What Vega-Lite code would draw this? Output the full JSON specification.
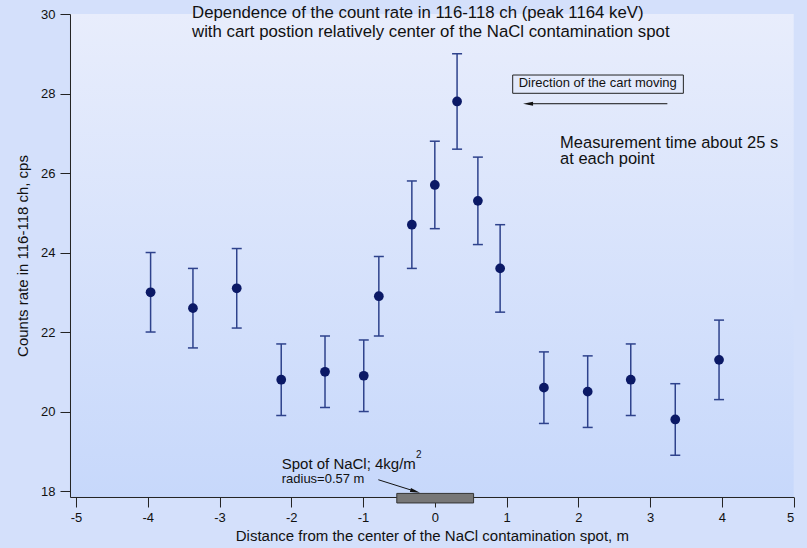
{
  "$schema": "https://vega.github.io/schema/vega-lite/v6.json",
  "width": 723.7,
  "height": 483,
  "autosize": {"type": "none"},
  "padding": {"left": 70, "top": 14, "right": 13, "bottom": 51},
  "background": "#d4e0fb",
  "config": {
    "view": {"stroke": null, "fill": {"gradient": "linear", "x1": 0, "y1": 0, "x2": 0, "y2": 1, "stops": [{"offset": 0, "color": "#e8edfc"}, {"offset": 1, "color": "#c7d8fb"}]}},
    "font": "Liberation Sans",
    "axis": {
      "grid": false,
      "domainColor": "#222222",
      "domainWidth": 1,
      "tickColor": "#222222",
      "tickWidth": 1,
      "tickSize": 10,
      "labelFont": "Liberation Sans",
      "labelFontSize": 13,
      "labelColor": "#111111",
      "labelPadding": 5,
      "labelExpr": "replace(datum.label, '−', '-')",
      "titleFont": "Liberation Sans",
      "titleFontSize": 15,
      "titleFontWeight": "normal",
      "titleColor": "#111111"
    }
  },
  "datasets": {
    "pts": [
      {"x": -3.96, "y": 23.0, "lo": 22.0, "hi": 24.0},
      {"x": -3.37, "y": 22.6, "lo": 21.6, "hi": 23.6},
      {"x": -2.76, "y": 23.1, "lo": 22.1, "hi": 24.1},
      {"x": -2.14, "y": 20.8, "lo": 19.9, "hi": 21.7},
      {"x": -1.53, "y": 21.0, "lo": 20.1, "hi": 21.9},
      {"x": -0.99, "y": 20.9, "lo": 20.0, "hi": 21.8},
      {"x": -0.78, "y": 22.9, "lo": 21.9, "hi": 23.9},
      {"x": -0.32, "y": 24.7, "lo": 23.6, "hi": 25.8},
      {"x": 0.0, "y": 25.7, "lo": 24.6, "hi": 26.8},
      {"x": 0.31, "y": 27.8, "lo": 26.6, "hi": 29.0},
      {"x": 0.6, "y": 25.3, "lo": 24.2, "hi": 26.4},
      {"x": 0.91, "y": 23.6, "lo": 22.5, "hi": 24.7},
      {"x": 1.52, "y": 20.6, "lo": 19.7, "hi": 21.5},
      {"x": 2.13, "y": 20.5, "lo": 19.6, "hi": 21.4},
      {"x": 2.73, "y": 20.8, "lo": 19.9, "hi": 21.7},
      {"x": 3.35, "y": 19.8, "lo": 18.9, "hi": 20.7},
      {"x": 3.96, "y": 21.3, "lo": 20.3, "hi": 22.3}
    ],
    "title": [
      {"x": -3.383, "y": 29.892, "t": "Dependence of the count rate in 116-118 ch (peak 1164 keV)"},
      {"x": -3.383, "y": 29.429, "t": "with cart postion relatively center of the NaCl contamination spot"}
    ],
    "meas": [
      {"x": 1.745, "y": 26.636, "t": "Measurement time about 25 s"},
      {"x": 1.745, "y": 26.226, "t": "at each point"}
    ],
    "dirText": [{"x": 2.27, "y": 28.156, "t": "Direction of the cart moving"}],
    "dirBox": [{"x": 1.085, "x2": 3.463, "y": 28.005, "y2": 28.465}],
    "dirArrow": [{"x": 1.299, "x2": 3.24, "y": 27.743, "y2": 27.743}],
    "dirHead": [{"x": 1.299, "y": 27.743}],
    "spot": [{"x": -0.53, "x2": 0.54, "y": 17.7, "y2": 17.94}],
    "spotText": [{"x": -2.133, "y": 18.546, "t": "Spot of NaCl; 4kg/m"}],
    "spotSup": [{"x": -0.262, "y": 18.823, "t": "2"}],
    "spotRad": [{"x": -2.133, "y": 18.194, "t": "radius=0.57 m"}],
    "spotArrow": [{"x": -0.787, "y": 18.284, "x2": -0.273, "y2": 17.992}],
    "spotHead": [{"x": -0.273, "y": 17.992}]
  },
  "encoding": {
    "x": {"field": "x", "type": "quantitative", "scale": {"domain": [-5.083, 5], "nice": false, "zero": false},
      "axis": {"title": "Distance from the center of the NaCl contamination spot, m", "values": [-5, -4, -3, -2, -1, 0, 1, 2, 3, 4, 5], "titlePadding": 4}},
    "y": {"field": "y", "type": "quantitative", "scale": {"domain": [17.85, 30], "nice": false, "zero": false},
      "axis": {"title": "Counts rate in 116-118 ch, cps", "values": [18, 20, 22, 24, 26, 28, 30], "titlePadding": 10}}
  },
  "layer": [
    {
      "data": {"name": "pts"},
      "mark": {"type": "rule", "color": "#2e428c", "strokeWidth": 1.5},
      "encoding": {
        "y": {"field": "lo", "type": "quantitative", "scale": {"domain": [17.85, 30], "nice": false, "zero": false},
          "axis": {"title": "Counts rate in 116-118 ch, cps", "values": [18, 20, 22, 24, 26, 28, 30], "titlePadding": 10}},
        "y2": {"field": "hi"}
      }
    },
    {
      "data": {"name": "pts"},
      "mark": {"type": "tick", "orient": "horizontal", "size": 10, "thickness": 1.5, "opacity": 1, "color": "#2e428c"},
      "encoding": {
        "y": {"field": "lo", "type": "quantitative", "scale": {"domain": [17.85, 30], "nice": false, "zero": false},
          "axis": {"title": "Counts rate in 116-118 ch, cps", "values": [18, 20, 22, 24, 26, 28, 30], "titlePadding": 10}}
      }
    },
    {
      "data": {"name": "pts"},
      "mark": {"type": "tick", "orient": "horizontal", "size": 10, "thickness": 1.5, "opacity": 1, "color": "#2e428c"},
      "encoding": {
        "y": {"field": "hi", "type": "quantitative", "scale": {"domain": [17.85, 30], "nice": false, "zero": false},
          "axis": {"title": "Counts rate in 116-118 ch, cps", "values": [18, 20, 22, 24, 26, 28, 30], "titlePadding": 10}}
      }
    },
    {
      "data": {"name": "pts"},
      "mark": {"type": "point", "filled": true, "size": 95, "opacity": 1, "color": "#0b1966"}
    },
    {
      "data": {"name": "title"},
      "mark": {"type": "text", "align": "left", "baseline": "alphabetic", "fontSize": 16.8, "color": "#111111"},
      "encoding": {"text": {"field": "t"}}
    },
    {
      "data": {"name": "meas"},
      "mark": {"type": "text", "align": "left", "baseline": "alphabetic", "fontSize": 16.5, "color": "#111111"},
      "encoding": {"text": {"field": "t"}}
    },
    {
      "data": {"name": "dirBox"},
      "mark": {"type": "rect", "fillOpacity": 0, "stroke": "#222222", "strokeWidth": 1},
      "encoding": {"x2": {"field": "x2"}, "y2": {"field": "y2"}}
    },
    {
      "data": {"name": "dirText"},
      "mark": {"type": "text", "align": "center", "baseline": "alphabetic", "fontSize": 13, "color": "#111111"},
      "encoding": {"text": {"field": "t"}}
    },
    {
      "data": {"name": "dirArrow"},
      "mark": {"type": "rule", "color": "#111111", "strokeWidth": 1},
      "encoding": {"x2": {"field": "x2"}, "y2": {"field": "y2"}}
    },
    {
      "data": {"name": "dirHead"},
      "mark": {"type": "point", "filled": true, "opacity": 1, "color": "#111111", "size": 100, "shape": "M-1,0L1,-0.4L1,0.4Z"}
    },
    {
      "data": {"name": "spot"},
      "mark": {"type": "rect", "clip": false, "fill": "#777777", "stroke": "#333333", "strokeWidth": 1},
      "encoding": {"x2": {"field": "x2"}, "y2": {"field": "y2"}}
    },
    {
      "data": {"name": "spotText"},
      "mark": {"type": "text", "align": "left", "baseline": "alphabetic", "fontSize": 15, "color": "#111111"},
      "encoding": {"text": {"field": "t"}}
    },
    {
      "data": {"name": "spotSup"},
      "mark": {"type": "text", "align": "left", "baseline": "alphabetic", "fontSize": 10, "color": "#111111"},
      "encoding": {"text": {"field": "t"}}
    },
    {
      "data": {"name": "spotRad"},
      "mark": {"type": "text", "align": "left", "baseline": "alphabetic", "fontSize": 13, "color": "#111111"},
      "encoding": {"text": {"field": "t"}}
    },
    {
      "data": {"name": "spotArrow"},
      "mark": {"type": "rule", "color": "#111111", "strokeWidth": 1},
      "encoding": {"x2": {"field": "x2"}, "y2": {"field": "y2"}}
    },
    {
      "data": {"name": "spotHead"},
      "mark": {"type": "point", "filled": true, "opacity": 1, "color": "#111111", "size": 100, "angle": 16, "shape": "M1,0L-1,-0.4L-1,0.4Z"}
    }
  ]
}
